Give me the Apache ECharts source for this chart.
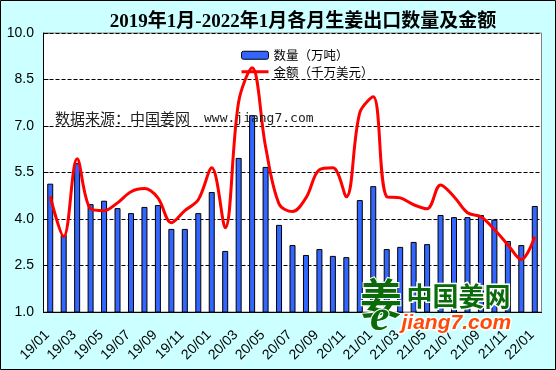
<!DOCTYPE html>
<html><head><meta charset="utf-8">
<style>html,body{margin:0;padding:0;background:#CCFFFF}#c{width:556px;height:370px}</style>
<script src="https://cdn.jsdelivr.net/npm/echarts@6/dist/echarts.min.js"></script>
</head><body><div id="c"></div>
<script>
const categories = ['19/01','19/02','19/03','19/04','19/05','19/06','19/07','19/08','19/09','19/10','19/11','19/12',
 '20/01','20/02','20/03','20/04','20/05','20/06','20/07','20/08','20/09','20/10','20/11','20/12',
 '21/01','21/02','21/03','21/04','21/05','21/06','21/07','21/08','21/09','21/10','21/11','21/12','22/01'];
const quantity = [5.14,3.49,5.80,4.48,4.59,4.35,4.19,4.39,4.45,3.68,3.68,4.19,
 4.87,2.97,5.97,7.35,5.68,3.81,3.16,2.84,3.03,2.81,2.77,4.61,
 5.06,3.03,3.10,3.26,3.19,4.13,4.06,4.06,4.13,3.98,3.29,3.16,4.42];
const amount = [4.73,3.43,5.94,4.33,4.27,4.52,4.88,4.98,4.68,3.88,4.27,4.62,
 5.65,3.72,7.78,8.88,6.33,4.49,4.24,4.68,5.59,5.65,4.72,7.43,
 7.94,4.72,4.68,4.46,4.33,5.10,4.72,4.20,4.07,3.66,3.17,2.69,3.43];
const yTicks = [1,2.5,4,5.5,7,8.5,10];
const titleText = '2019年1月-2022年1月各月生姜出口数量及金额';
const sourceText = '数据来源：中国姜网';
const sourceUrl = 'www.jiang7.com';
const seriesNames = ['数量（万吨）','金额（千万美元）'];

const cjk = '"Noto Sans CJK SC"';
const chart = echarts.init(document.getElementById('c'), null, {renderer:'canvas'});
chart.setOption({
  animation:false,
  backgroundColor:'#CCFFFF',
  title:{text:titleText,left:298,top:8,textAlign:'center',
    textStyle:{fontFamily:'"Liberation Serif",'+cjk,fontWeight:'bold',fontSize:19,color:'#000'}},
  legend:{left:236,top:44,orient:'vertical',itemWidth:27,itemHeight:8,itemGap:4,
    textStyle:{fontFamily:cjk,fontSize:12.5,color:'#000'},
    data:[{name:seriesNames[0],itemStyle:{borderWidth:1,borderColor:'#000'}},
          {name:seriesNames[1],icon:'path://M0 2.5L27 2.5L27 5.5L0 5.5Z M0 0L0 0Z M27 8L27 8Z'}]},
  grid:{left:43.5,right:14.5,top:33,bottom:58,show:true,borderColor:'#808080',borderWidth:1,backgroundColor:'#fff'},
  xAxis:{type:'category',data:categories,
    axisLine:{lineStyle:{color:'#000',width:1}},axisTick:{show:false},
    axisLabel:{interval:1,rotate:45,margin:18,padding:[0,4,0,0],fontFamily:'"Liberation Sans"',fontSize:14,color:'#000'}},
  yAxis:{type:'value',min:1,max:10,
    axisLine:{show:true,lineStyle:{color:'#000',width:1}},
    axisTick:{show:true,inside:true,length:5,customValues:yTicks,lineStyle:{color:'#000'}},
    axisLabel:{customValues:yTicks,margin:9.5,fontFamily:'"Liberation Sans"',fontSize:14,color:'#000',
      formatter:v=>v.toFixed(1)},
    splitLine:{show:true,lineStyle:{color:'#000',type:[4,2],width:1}}},
  series:[
    {name:seriesNames[0],type:'bar',data:quantity,barWidth:6,z:2,
      itemStyle:{color:'#3366FF',borderColor:'#000',borderWidth:1}},
    {name:seriesNames[1],type:'line',data:amount,smooth:0.35,symbol:'none',z:3,
      itemStyle:{color:'#FF0000'},lineStyle:{color:'#FF0000',width:3}}
  ],
  graphic:[
    {type:'rect',z:100,silent:true,shape:{x:0.5,y:0.5,width:555,height:369},style:{fill:'none',stroke:'#000',lineWidth:1}},
    {type:'text',z:50,left:55,top:111,style:{text:sourceText,fontFamily:cjk,fontSize:15,fill:'#222'}},
    {type:'text',z:50,left:204,top:112,style:{text:sourceUrl,fontFamily:'"DejaVu Sans Mono"',fontSize:13,fill:'#222'}},
    {type:'text',z:60,left:359,top:276,style:{text:'姜',fontFamily:cjk,fontWeight:'bold',fontSize:42,fill:'#0B6B0B',stroke:'#fff',lineWidth:2}},
    {type:'text',z:61,left:369,top:296,style:{text:'e',fontFamily:'"Liberation Serif"',fontStyle:'italic',fontWeight:'bold',fontSize:44,fill:'#0B6B0B',stroke:'#fff',lineWidth:2}},
    {type:'text',z:60,left:405,top:282,style:{text:'中国姜网',fontFamily:cjk,fontWeight:'bold',fontSize:26,fill:'#0B6B0B',stroke:'#fff',lineWidth:3}},
    {type:'text',z:60,left:400,top:311,style:{text:'jiang7.com',fontFamily:'"Liberation Sans"',fontStyle:'italic',fontWeight:'bold',fontSize:21,fill:'#FF4A0A',stroke:'#fff',lineWidth:3}}
  ]
});
</script></body></html>
